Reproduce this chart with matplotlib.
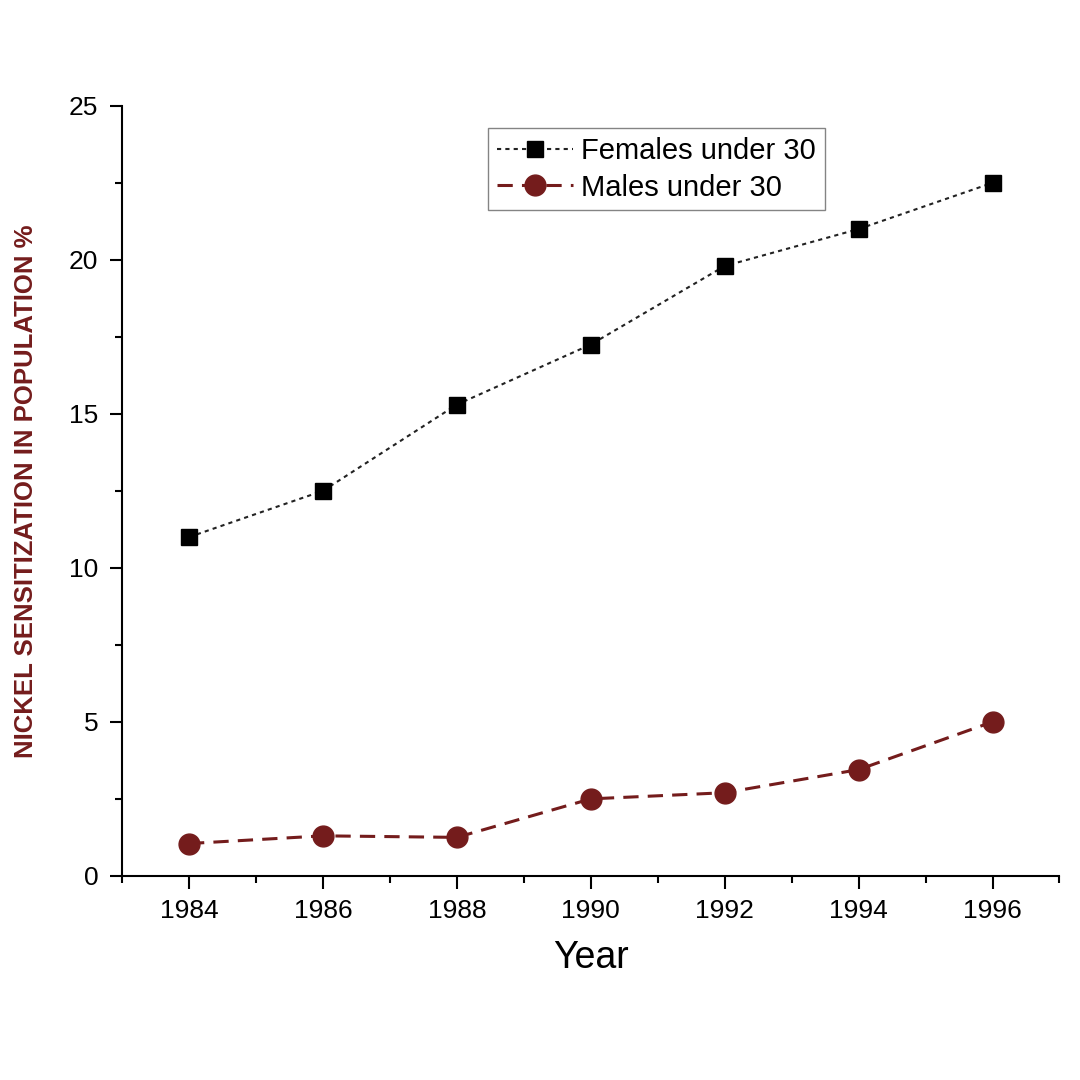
import matplotlib
matplotlib.use("Agg")
import matplotlib.pyplot as plt
from matplotlib.ticker import MultipleLocator

plt.rcParams["font.family"] = "Liberation Sans"

years = [1984, 1986, 1988, 1990, 1992, 1994, 1996]
females = [11.0, 12.5, 15.3, 17.25, 19.8, 21.0, 22.5]
males = [1.05, 1.3, 1.25, 2.5, 2.7, 3.45, 5.0]

fig = plt.figure(figsize=(10.8, 10.8), dpi=100)
ax = fig.add_axes([0.113, 0.189, 0.868, 0.713])
red = "#741c1c"
ax.plot(years, females, ls=(0, (2, 2)), color="#222222", lw=1.5, marker="s", ms=11, mfc="black", mec="black", label="Females under 30")
ax.plot(years, males, ls=(0, (5, 3)), color=red, lw=2.2, marker="o", ms=15, mfc=red, mec=red, label="Males under 30")
ax.set_xlim(1983, 1997)
ax.set_ylim(0, 25)
ax.set_xticks(years)
ax.xaxis.set_minor_locator(MultipleLocator(1))
ax.yaxis.set_minor_locator(MultipleLocator(2.5))
ax.yaxis.set_major_locator(MultipleLocator(5))
for s in ["top", "right"]:
    ax.spines[s].set_visible(False)
for s in ["left", "bottom"]:
    ax.spines[s].set_linewidth(1.5)
ax.tick_params(which="major", direction="out", length=9, width=1.5, labelsize=19, pad=8)
ax.tick_params(which="minor", direction="out", length=5, width=1.5)
ax.set_xlabel("Year", fontsize=27, labelpad=12)
ax.set_ylabel("NICKEL SENSITIZATION IN POPULATION %", fontsize=18.5, fontweight="bold", color=red, labelpad=22)
leg = ax.legend(loc="upper left", bbox_to_anchor=(0.375, 0.99), fontsize=21, frameon=True, fancybox=False, edgecolor="#666666", handlelength=2.6, handletextpad=0.3, borderpad=0.3, labelspacing=0.3)
fig.savefig("out.png", dpi=100)
